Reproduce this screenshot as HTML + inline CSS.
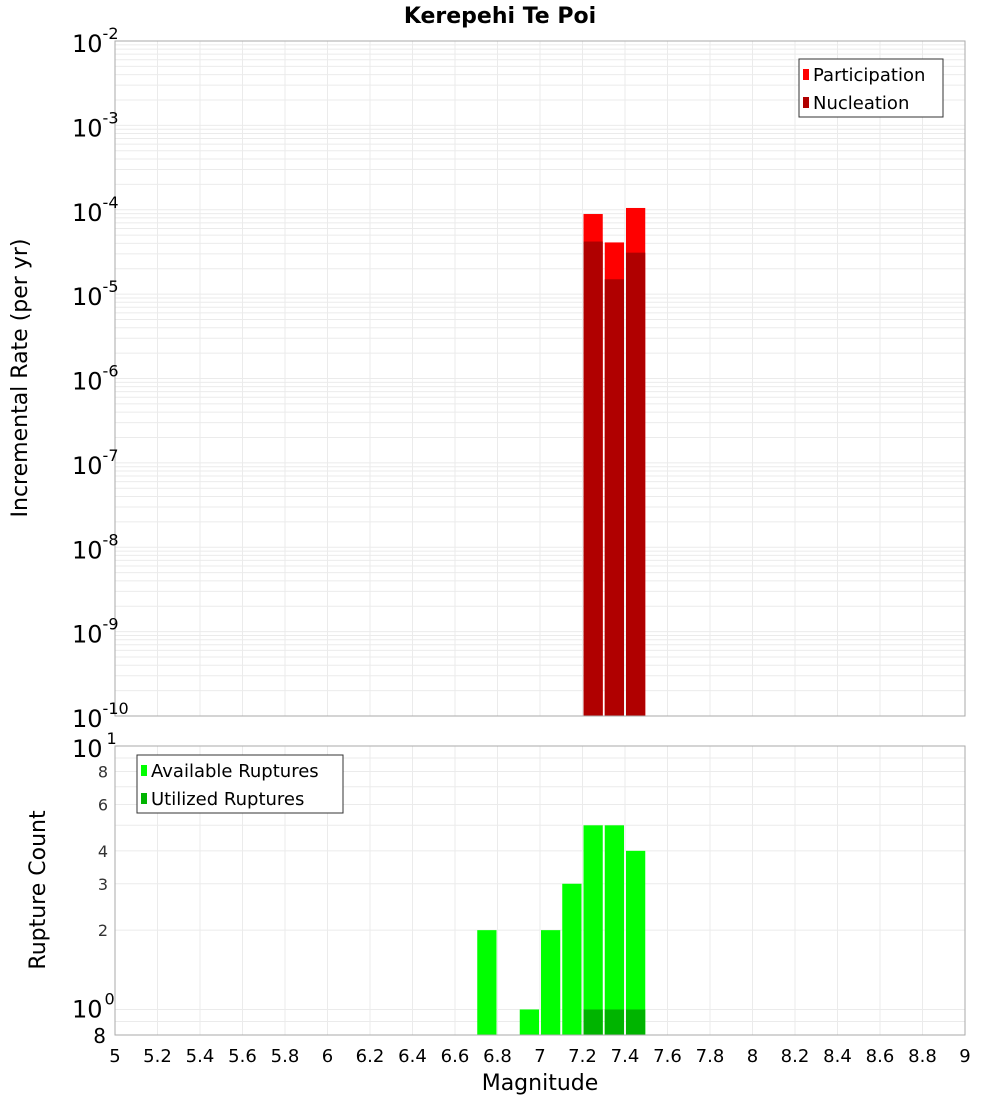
<!DOCTYPE html>
<html><head><meta charset="utf-8"><style>
body{margin:0;background:#fff;}
svg{display:block;font-family:"DejaVu Sans","Liberation Sans",sans-serif;}
</style></head><body>
<svg id="chart" width="1000" height="1100" viewBox="0 0 1000 1100" xmlns="http://www.w3.org/2000/svg">
<text x="500" y="23" text-anchor="middle" font-size="22" font-weight="bold">Kerepehi Te Poi</text>
<g id="topg"></g><g id="botg"></g>
<text transform="translate(27,378) rotate(-90)" text-anchor="middle" font-size="22">Incremental Rate (per yr)</text>
<text transform="translate(45,890) rotate(-90)" text-anchor="middle" font-size="22">Rupture Count</text>
<text x="540" y="1090" text-anchor="middle" font-size="22">Magnitude</text>
</svg>
<script>
const mags=[7.25,7.35,7.45];
const participation=[8.9e-5,4.1e-5,1.05e-4];
const nucleation=[4.2e-5,1.5e-5,3.1e-5];
const countMags=[6.75,6.95,7.05,7.15,7.25,7.35,7.45];
const available=[2,1,2,3,5,5,4];
const utilized=[0,0,0,0,1,1,1];
const xTicks=["5","5.2","5.4","5.6","5.8","6","6.2","6.4","6.6","6.8","7","7.2","7.4","7.6","7.8","8","8.2","8.4","8.6","8.8","9"];
const topExps=[-2,-3,-4,-5,-6,-7,-8,-9,-10];
const botTicks=[8,6,4,3,2];

const NS="http://www.w3.org/2000/svg";
const L=115,R=965,T1=41,B1=716,T2=746,B2=1035;
const xS=m=>L+(m-5)/4*(R-L);
const yTop=v=>T1+(-2-Math.log10(v))/8*(B1-T1);
const yBot=v=>T2+(1-Math.log10(v))/(1-Math.log10(0.8))*(B2-T2);
function mk(p,tag,a,txt){const e=document.createElementNS(NS,tag);for(const k in a)e.setAttribute(k,a[k]);if(txt!==undefined)e.textContent=txt;p.appendChild(e);return e;}
const topG=document.getElementById('topg'),botG=document.getElementById('botg'),svgEl=document.getElementById('chart');

for(let i=0;i<=20;i++){const xx=xS(5+i*0.2);
 mk(topG,'line',{x1:xx,x2:xx,y1:T1,y2:B1,stroke:'#ebebeb'});
 mk(botG,'line',{x1:xx,x2:xx,y1:T2,y2:B2,stroke:'#ebebeb'});}
for(let e=-10;e<-2;e++)for(let k=1;k<10;k++){const yy=yTop(k*Math.pow(10,e));
 mk(topG,'line',{x1:L,x2:R,y1:yy,y2:yy,stroke:'#ebebeb'});}
for(let k=1;k<10;k++){const yy=yBot(k);mk(botG,'line',{x1:L,x2:R,y1:yy,y2:yy,stroke:'#ebebeb'});}
mk(botG,'line',{x1:L,x2:R,y1:yBot(0.9),y2:yBot(0.9),stroke:'#ebebeb'});

mags.forEach((m,i)=>{
 const r=mk(topG,'rect',{x:xS(m-0.05)+1,y:yTop(participation[i]),width:xS(m+0.05)-xS(m-0.05)-2,height:B1-yTop(participation[i]),fill:'#ff0000'});
 
 
 const n=mk(topG,'rect',{x:xS(m-0.05)+1,y:yTop(nucleation[i]),width:xS(m+0.05)-xS(m-0.05)-2,height:B1-yTop(nucleation[i]),fill:'#b00000'});
 
 
});
countMags.forEach((m,i)=>{
 const r=mk(botG,'rect',{x:xS(m-0.05)+1,y:yBot(available[i]),width:xS(m+0.05)-xS(m-0.05)-2,height:B2-yBot(available[i]),fill:'#00ff00'});
 
 
 if(utilized[i]>0){const u=mk(botG,'rect',{x:xS(m-0.05)+1,y:yBot(utilized[i]),width:xS(m+0.05)-xS(m-0.05)-2,height:B2-yBot(utilized[i]),fill:'#00b400'});
 
 }
});
mk(topG,'rect',{x:L,y:T1,width:R-L,height:B1-T1,fill:'none',stroke:'#aaaaaa'});
mk(botG,'rect',{x:L,y:T2,width:R-L,height:B2-T2,fill:'none',stroke:'#aaaaaa'});

topExps.forEach(e=>{const yy=yTop(Math.pow(10,e));
 const t=mk(svgEl,'text',{x:72,y:yy+11,'font-size':24});
 
 
 mk(t,'tspan',{},'10');mk(t,'tspan',{dy:-13,'font-size':16},String(e));});
const t10=mk(svgEl,'text',{x:72,y:yBot(10)+11,'font-size':24});


mk(t10,'tspan',{},'10');mk(t10,'tspan',{dy:-13,'font-size':16,dx:4},'1');
const t1=mk(svgEl,'text',{x:72,y:yBot(1)+8,'font-size':24});


mk(t1,'tspan',{},'10');mk(t1,'tspan',{dy:-13,'font-size':16,dx:2},'0');
botTicks.forEach(v=>{const t=mk(svgEl,'text',{x:108,y:yBot(v)+6,'font-size':16,'text-anchor':'end','fill':'#333'},String(v));
 
 });
const t8=mk(svgEl,'text',{x:106,y:B2+8,'font-size':20,'text-anchor':'end'},'8');


xTicks.forEach(s=>{const t=mk(svgEl,'text',{x:xS(parseFloat(s)),y:1062,'font-size':18,'text-anchor':'middle'},s);
 
 });

function legend(x0,y0,w,items,name){const g=mk(svgEl,'g',{});
 
 
 mk(g,'rect',{x:x0,y:y0,width:w,height:58,fill:'#fff',stroke:'#333'});
 items.forEach((it,i)=>{mk(g,'rect',{x:x0+4,y:y0+10+i*28,width:6,height:11,fill:it[1]});
 mk(g,'text',{x:x0+14,y:y0+22+i*28,'font-size':18},it[0]);});}
legend(799,59,144,[['Participation','#ff0000'],['Nucleation','#b00000']],'top-legend');
legend(137,755,206,[['Available Ruptures','#00ff00'],['Utilized Ruptures','#00b400']],'bottom-legend');
</script>
</body></html>
